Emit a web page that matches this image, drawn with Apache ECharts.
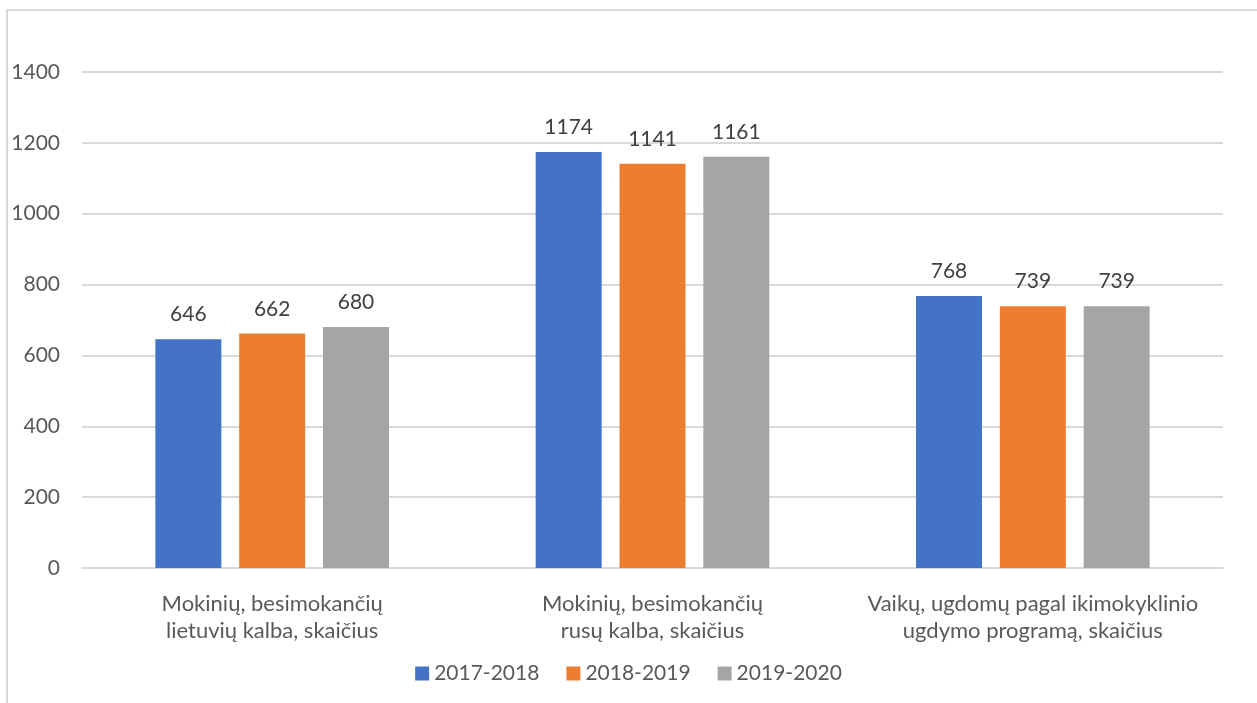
<!DOCTYPE html>
<html><head><meta charset="utf-8">
<script src="https://cdn.jsdelivr.net/npm/echarts@6/dist/echarts.min.js"></script>
<style>html,body{margin:0;padding:0;background:#fff}#c{width:1257px;height:703px}</style>
</head><body><div id="c"></div>
<script>
const categories = ["Mokinių, besimokančių\nlietuvių kalba, skaičius", "Mokinių, besimokančių\nrusų kalba, skaičius", "Vaikų, ugdomų pagal ikimokyklinio\nugdymo programą, skaičius"];
const seriesNames = ["2017-2018", "2018-2019", "2019-2020"];
const values2017 = [646, 1174, 768];
const values2018 = [662, 1141, 739];
const values2019 = [680, 1161, 739];
const colors = ["#4472C4", "#ED7D31", "#A5A5A5"];
const font = "Lato, 'Open Sans', sans-serif";
const chart = echarts.init(document.getElementById('c'));
const mk = (name, data, color) => ({
  name, type: 'bar', data, barWidth: 66, barGap: '27%',
  itemStyle: {color},
  label: {show: true, position: 'top', distance: 14, color: '#404040', fontSize: 21, fontFamily: font}
});
chart.setOption({
  animation: false,
  graphic: [{type: 'rect', shape: {x: 7, y: 10, width: 1260, height: 710}, style: {fill: 'none', stroke: '#d9d9d9', lineWidth: 2}}],
  grid: {left: 82, right: 34, top: 72, bottom: 135, containLabel: false},
  legend: {bottom: 14, left: 'center', itemWidth: 14, itemHeight: 14, itemGap: 27, icon: 'rect',
    textStyle: {color: '#595959', fontSize: 21, fontFamily: font}, data: seriesNames},
  xAxis: {type: 'category', data: categories, axisTick: {show: false},
    axisLine: {lineStyle: {color: '#d9d9d9', width: 2}},
    axisLabel: {color: '#595959', fontSize: 22, fontFamily: font, lineHeight: 27, margin: 22, interval: 0, hideOverlap: false}},
  yAxis: {type: 'value', min: 0, max: 1400, interval: 200,
    axisLine: {show: false}, axisTick: {show: false},
    splitLine: {lineStyle: {color: '#d9d9d9', width: 2}},
    axisLabel: {color: '#595959', fontSize: 21, fontFamily: font, margin: 22, formatter: v => String(v)}},
  series: [mk(seriesNames[0], values2017, colors[0]), mk(seriesNames[1], values2018, colors[1]), mk(seriesNames[2], values2019, colors[2])]
});
</script></body></html>
